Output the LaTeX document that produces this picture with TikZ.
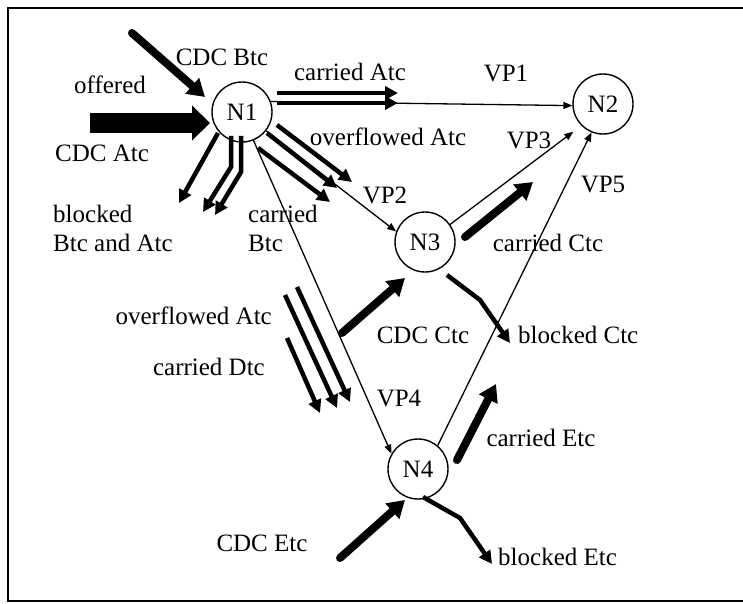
\documentclass[tikz,border=0pt]{standalone}
\usepackage{fontspec}
\setmainfont{Liberation Serif}
\usetikzlibrary{arrows.meta,calc}
\begin{document}
\begin{tikzpicture}[x=1pt,y=-1pt,
  every node/.style={font=\fontsize{25}{29}\selectfont},
  lbl/.style={inner sep=0pt},
  nd/.style={draw,circle,line width=1.4pt,minimum size=60pt,inner sep=0pt},
  thinarr/.style={line width=1.3pt,-{Triangle[length=9pt,width=7pt]}},
  medarr/.style={line width=4.5pt,-{Triangle[length=13pt,width=13pt]}},
  fatarr/.style={line width=8pt,line cap=round,-{Triangle[length=17pt,width=20pt]}},
  hugearr/.style={line width=20pt,-{Triangle[length=18pt,width=34pt]}},
  frame/.style={line width=1.5pt}
]
\useasboundingbox (0,0) rectangle (743,604);
% frame
\draw[frame] (743,8) -- (8,8) -- (8,601) -- (743,601);

% nodes
\node[nd] (N1) at (242,112) {N1};
\node[nd] (N2) at (603,104) {N2};
\node[nd] (N3) at (425,242) {N3};
\node[nd] (N4) at (418,469) {N4};

% labels
\node[lbl] (lCDCB) at (222,57) {CDC Btc};
\node[lbl] (loff) at (110,85) {offered};
\node[lbl] (lCDCA) at (102,153) {CDC Atc};
\node[lbl] (lcarA) at (350,72) {carried Atc};
\node[lbl] (lVP1) at (506,73) {VP1};
\node[lbl] (lovA) at (388,137) {overflowed Atc};
\node[lbl] (lVP3) at (529,140) {VP3};
\node[lbl] (lVP2) at (385,195) {VP2};
\node[lbl] (lVP5) at (603,185) {VP5};
\node[lbl,anchor=west,align=left] (lblk) at (53,228) {blocked\\Btc and Atc};
\node[lbl,anchor=west,align=left] (lcarB) at (248,228) {carried\\Btc};
\node[lbl] (lcarC) at (548,243) {carried Ctc};
\node[lbl,anchor=east] (lovA2) at (272,316) {overflowed Atc};
\node[lbl,anchor=east] (lcarD) at (265,367) {carried Dtc};
\node[lbl] (lCDCC) at (423,335) {CDC Ctc};
\node[lbl,anchor=west] (lblkC) at (518,335) {blocked Ctc};
\node[lbl] (lVP4) at (399,398) {VP4};
\node[lbl] (lcarE) at (541,438) {carried Etc};
\node[lbl] (lCDCE) at (262,543) {CDC Etc};
\node[lbl,anchor=west] (lblkE) at (498,557) {blocked Etc};

% coordinates for free ends
\coordinate (cbs) at (132,33);   \coordinate (cbe) at (205,97);
\coordinate (cas) at (90,123);   \coordinate (cae) at (210,123);
\coordinate (ca1s) at (277,93);  \coordinate (ca1e) at (398,93);
\coordinate (ca2s) at (277,103); \coordinate (ca2e) at (398,103);
\coordinate (ov1s) at (277,125); \coordinate (ov1e) at (352,182);
\coordinate (ov2s) at (267,133); \coordinate (ov2e) at (337,188);
\coordinate (cbts) at (258,148); \coordinate (cbte) at (330,202);
\coordinate (bl1s) at (218,133); \coordinate (bl1e) at (179,203);
\coordinate (bl2s) at (231,136); \coordinate (bl2m) at (231,167); \coordinate (bl2e) at (203,212);
\coordinate (bl3s) at (241,136); \coordinate (bl3m) at (241,172); \coordinate (bl3e) at (215,215);
\coordinate (dAs) at (287,338);  \coordinate (dAe) at (320,413);
\coordinate (dBs) at (285,295);  \coordinate (dBe) at (337,408);
\coordinate (dCs) at (297,287);  \coordinate (dCe) at (350,402);
\coordinate (ccs) at (465,237);  \coordinate (cce) at (533,182);
\coordinate (cdcs) at (342,333); \coordinate (cdce) at (405,278);
\coordinate (bcs) at (447,275);  \coordinate (bcm) at (480,300); \coordinate (bce) at (510,343);
\coordinate (ces) at (457,460);  \coordinate (cee) at (496,384);
\coordinate (ecs) at (340,558);  \coordinate (ece) at (405,500);
\coordinate (bes) at (423,497);  \coordinate (bem) at (460,518); \coordinate (bee) at (492,564);

% thin VP connectors
\draw[thinarr] (N1.20) -- (N2.183);
\draw[thinarr] (N1.-38) -- (N3.160);
\draw[thinarr,shorten >=10pt] (N3.35) -- (N2.-135);
\draw[thinarr] (N1.-68) -- (N4.150);
\draw[thinarr] (N4.50) -- (N2.-112);

% traffic arrows
\draw[fatarr] (cbs) -- (cbe);
\draw[hugearr] (cas) -- (cae);
\draw[medarr] (ca1s) -- (ca1e);
\draw[medarr] (ca2s) -- (ca2e);
\draw[medarr] (ov1s) -- (ov1e);
\draw[medarr] (ov2s) -- (ov2e);
\draw[medarr] (cbts) -- (cbte);
\draw[medarr] (bl1s) -- (bl1e);
\draw[medarr] (bl2s) -- (bl2m) -- (bl2e);
\draw[medarr] (bl3s) -- (bl3m) -- (bl3e);
\draw[medarr] (dAs) -- (dAe);
\draw[medarr] (dBs) -- (dBe);
\draw[medarr] (dCs) -- (dCe);
\draw[fatarr] (ccs) -- (cce);
\draw[fatarr] (cdcs) -- (cdce);
\draw[medarr] (bcs) -- (bcm) -- (bce);
\draw[fatarr] (ces) -- (cee);
\draw[fatarr] (ecs) -- (ece);
\draw[medarr] (bes) -- (bem) -- (bee);
\end{tikzpicture}
\end{document}
